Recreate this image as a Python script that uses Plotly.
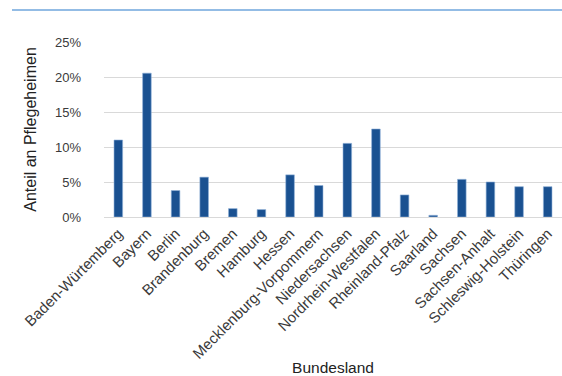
import plotly.graph_objects as go

categories = ["Baden-Würtemberg", "Bayern", "Berlin", "Brandenburg", "Bremen", "Hamburg",
              "Hessen", "Mecklenburg-Vorpommern", "Niedersachsen", "Nordrhein-Westfalen",
              "Rheinland-Pfalz", "Saarland", "Sachsen", "Sachsen-Anhalt",
              "Schleswig-Holstein", "Thüringen"]
values = [0.110, 0.2055, 0.0378, 0.0569, 0.012, 0.0106,
          0.0602, 0.045, 0.1052, 0.1257,
          0.0315, 0.0024, 0.0538, 0.050,
          0.0433, 0.0433]
y_ticks = [0, 0.05, 0.10, 0.15, 0.20, 0.25]

W, H = 562, 376
L, R, T, B = 104, 0, 42, 159

fig = go.Figure(go.Bar(
    x=categories, y=values,
    marker=dict(color="#1A5191", line=dict(color="#8FB0D8", width=0.6)),
))

font = dict(family="Liberation Sans, Arial, sans-serif", color="#404040", size=13)

fig.update_layout(
    width=W, height=H,
    margin=dict(l=L, r=R, t=T, b=B, pad=0),
    paper_bgcolor="white", plot_bgcolor="white",
    bargap=0.7,
    showlegend=False,
    font=font,
    xaxis=dict(
        tickangle=-45,
        tickfont=dict(size=15, color="#3A3A3A"),
        showgrid=False, showline=False, ticks="",
        ticklabelstandoff=4,
        title=dict(text="Bundesland", font=dict(size=15.5, color="#222"), standoff=4),
    ),
    yaxis=dict(
        range=[0, 0.25],
        tickvals=y_ticks,
        tickformat=".0%",
        tickfont=dict(size=13, color="#3A3A3A"),
        showgrid=True, gridcolor="#D9D9D9", gridwidth=1,
        zeroline=True, zerolinecolor="#D9D9D9", zerolinewidth=1,
        showline=False, ticks="",
        ticklabelstandoff=22,
        title=dict(text="Anteil an Pflegeheimen", font=dict(size=16, color="#222"), standoff=14),
    ),
)

pw = W - L - R
ph = H - T - B
fig.add_shape(type="line", xref="paper", yref="paper",
              x0=(12 - L) / pw, x1=(W - L) / pw,
              y0=(H - B - 10) / ph, y1=(H - B - 10) / ph,
              line=dict(color="#6FA6DC", width=1.5))

fig.write_html("out.html")
